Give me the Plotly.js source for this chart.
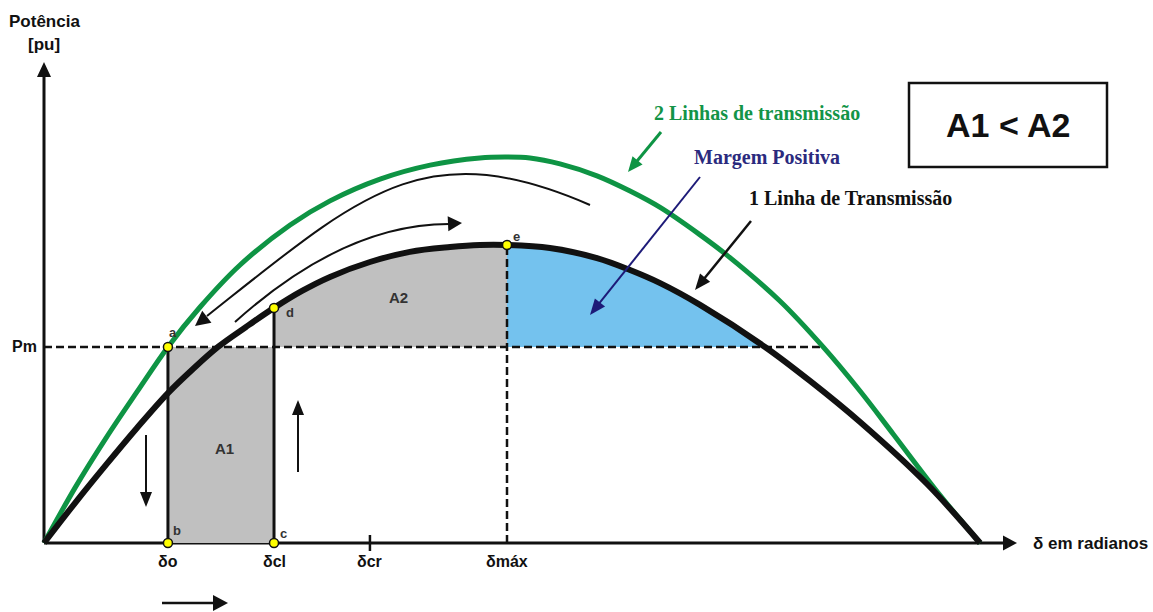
<!DOCTYPE html>
<html>
<head>
<meta charset="utf-8">
<script src="https://cdn.plot.ly/plotly-3.0.1.min.js"></script>
<style>html,body{margin:0;padding:0;background:#fff;}#chart{width:1153px;height:612px;}</style>
</head>
<body>
<div id="chart"></div>
<script>
// ---- Data (δ in radians, P in pu) ----
const deltaBlack = [0, 0.104, 0.208, 0.312, 0.416, 0.500, 0.584, 0.678, 0.772, 0.866, 0.960, 1.094, 1.228, 1.363, 1.463, 1.554, 1.698, 1.856, 1.967, 2.068, 2.202, 2.420, 2.571, 2.739, 2.964, 3.142];
const pBlack     = [0, 0.134, 0.262, 0.386, 0.503, 0.584, 0.658, 0.725, 0.789, 0.846, 0.893, 0.943, 0.977, 0.993, 1.000, 1.000, 0.990, 0.956, 0.916, 0.872, 0.799, 0.658, 0.544, 0.406, 0.198, 0];
const deltaGreen = [0, 0.104, 0.208, 0.312, 0.416, 0.524, 0.658, 0.826, 0.960, 1.128, 1.296, 1.463, 1.547, 1.631, 1.732, 1.856, 1.967, 2.068, 2.202, 2.292, 2.470, 2.615, 2.739, 2.850, 3.007, 3.142];
const pGreen     = [0, 0.185, 0.352, 0.507, 0.658, 0.792, 0.933, 1.067, 1.148, 1.221, 1.268, 1.292, 1.295, 1.292, 1.272, 1.232, 1.181, 1.126, 1.034, 0.966, 0.812, 0.658, 0.510, 0.366, 0.161, 0];
const Pm = 0.658;
const tickNames  = ['δo', 'δcl', 'δcr', 'δmáx'];
const tickDeltas = [0.416, 0.772, 1.094, 1.554];
const deltaCrossBlack = 2.420;
const deltaCrossGreen = 2.615;
const pointNames  = ['a', 'b', 'c', 'd', 'e'];
const pointDeltas = [0.416, 0.416, 0.772, 0.772, 1.554];
const pointPowers = [0.658, 0, 0, 0.789, 1.000];

const dO = tickDeltas[0], dCl = tickDeltas[1], dCr = tickDeltas[2], dMax = tickDeltas[3];

// ---- pixel helpers for decorations (axis mapping is fixed) ----
const X = px => (px - 44) * Math.PI / 936;
const Y = py => (543 - py) / 298;
const font = (s, c, fam) => ({family: fam || 'Liberation Sans, Arial, sans-serif', size: s, color: c || '#111'});
const SERIF = 'Liberation Serif, Times New Roman, serif';

function seg(x1, y1, x2, y2, color, w, layer) {
  return {type: 'line', xref: 'x', yref: 'y', x0: X(x1), y0: Y(y1), x1: X(x2), y1: Y(y2),
          line: {color: color, width: w}, layer: layer || 'above'};
}
function head(tx, ty, fx, fy, L, W, color) {
  const dx = tx - fx, dy = ty - fy, n = Math.hypot(dx, dy), ux = dx / n, uy = dy / n;
  const bx = tx - ux * L, by = ty - uy * L, qx = -uy, qy = ux;
  const p1 = [bx + qx * W / 2, by + qy * W / 2], p2 = [bx - qx * W / 2, by - qy * W / 2];
  return {type: 'path', xref: 'x', yref: 'y',
    path: `M${X(tx)},${Y(ty)}L${X(p1[0])},${Y(p1[1])}L${X(p2[0])},${Y(p2[1])}Z`,
    fillcolor: color, line: {width: 0}, layer: 'above'};
}
function arrow(x1, y1, x2, y2, color, w, L, W) {
  const dx = x2 - x1, dy = y2 - y1, n = Math.hypot(dx, dy);
  const ex = x2 - dx / n * L * 0.8, ey = y2 - dy / n * L * 0.8;
  return [seg(x1, y1, ex, ey, color, w), head(x2, y2, x1, y1, L, W, color)];
}
function P(px, py) { return X(px) + ',' + Y(py); }

// ---- traces ----
const inRange = (a, b) => deltaBlack.map((d, i) => i).filter(i => deltaBlack[i] >= a - 1e-9 && deltaBlack[i] <= b + 1e-9);
const idxA2 = inRange(dCl, dMax);
const idxBlue = inRange(dMax, deltaCrossBlack);

const traces = [
  {x: [dCl, dMax], y: [Pm, Pm], mode: 'lines', line: {width: 0}, hoverinfo: 'skip'},
  {x: idxA2.map(i => deltaBlack[i]), y: idxA2.map(i => pBlack[i]), mode: 'lines',
   line: {width: 0, shape: 'spline'}, fill: 'tonexty', fillcolor: '#c0c0c0', hoverinfo: 'skip'},
  {x: [dMax, deltaCrossBlack], y: [Pm, Pm], mode: 'lines', line: {width: 0}, hoverinfo: 'skip'},
  {x: idxBlue.map(i => deltaBlack[i]), y: idxBlue.map(i => pBlack[i]), mode: 'lines',
   line: {width: 0, shape: 'spline'}, fill: 'tonexty', fillcolor: '#74c2ee', hoverinfo: 'skip'},
  // A1 rectangle
  {x: [dO, dCl, dCl, dO, dO], y: [0, 0, Pm, Pm, 0], mode: 'lines', line: {width: 0},
   fill: 'toself', fillcolor: '#c0c0c0', hoverinfo: 'skip'},
  // dashed Pm line
  {x: [0, deltaCrossGreen], y: [Pm, Pm], mode: 'lines', line: {color: '#111', width: 2.5, dash: '8px,4px'}, hoverinfo: 'skip'},
  // dashed δmax vertical
  {x: [dMax, dMax], y: [0, pointPowers[4]], mode: 'lines', line: {color: '#111', width: 2.5, dash: '8px,4px'}, hoverinfo: 'skip'},
  // verticals at δo and δcl
  {x: [dO, dO], y: [0, Pm], mode: 'lines', line: {color: '#111', width: 3}, hoverinfo: 'skip'},
  {x: [dCl, dCl], y: [0, pointPowers[3]], mode: 'lines', line: {color: '#111', width: 3}, hoverinfo: 'skip'},
  // curves
  {x: deltaGreen, y: pGreen, mode: 'lines', line: {color: '#0e9444', width: 5, shape: 'spline'}, name: '2 Linhas'},
  {x: deltaBlack, y: pBlack, mode: 'lines', line: {color: '#111', width: 6, shape: 'spline'}, name: '1 Linha'},
  // points
  {x: pointDeltas, y: pointPowers, mode: 'markers', marker: {color: '#ffff00', size: 9, line: {color: '#111', width: 1.5}}, hoverinfo: 'skip'}
];

// ---- shapes ----
let shapes = [];
// axes
shapes.push(seg(44, 543, 1006, 543, '#111', 3, 'below'));
shapes.push(head(1017, 543, 44, 543, 14, 15, '#111'));
shapes.push(seg(44, 543, 44, 74, '#111', 3, 'below'));
shapes.push(head(44, 62, 44, 543, 15, 14, '#111'));
// δcr tick
shapes.push({type: 'line', xref: 'x', yref: 'y', x0: dCr, x1: dCr, y0: Y(535), y1: Y(551), line: {color: '#111', width: 2.5}});
// straight arrows
shapes = shapes.concat(arrow(146, 435, 146, 507, '#111', 2, 15, 12));
shapes = shapes.concat(arrow(298, 472, 298, 400, '#111', 2, 15, 12));
shapes = shapes.concat(arrow(162, 603, 228, 603, '#111', 2.5, 15, 16));
shapes = shapes.concat(arrow(661, 132, 628, 172, '#0e9444', 3, 15, 13));
shapes = shapes.concat(arrow(700, 177, 590, 315, '#1d1a78', 2, 16, 13));
shapes = shapes.concat(arrow(751, 221, 695, 290, '#111', 2.5, 16, 13));
// curved arrows
shapes.push({type: 'path', xref: 'x', yref: 'y', path: `M${P(235, 322)}Q${P(344, 224)} ${P(449, 224)}`,
  line: {color: '#111', width: 2}});
shapes.push(head(462, 223, 440, 224, 14, 15, '#111'));
shapes.push({type: 'path', xref: 'x', yref: 'y', path: `M${P(590, 205)}C${P(424, 133)} ${P(362, 193)} ${P(207, 316)}`,
  line: {color: '#111', width: 2}});
shapes.push(head(195, 326, 222, 305, 15, 15, '#111'));
// box
shapes.push({type: 'rect', xref: 'x', yref: 'y', x0: X(909), x1: X(1107), y0: Y(167), y1: Y(83),
  line: {color: '#111', width: 2.5}, fillcolor: 'rgba(0,0,0,0)'});

// ---- annotations ----
const ann = [];
tickNames.forEach((t, i) => ann.push({x: tickDeltas[i], y: Y(561), text: '<b>' + t + '</b>', showarrow: false,
  font: font(16), xanchor: 'center', yanchor: 'middle'}));
const lblShift = [[5, 14], [9, 13], [9, 10], [16, -5], [9, 9]];
pointNames.forEach((t, i) => ann.push({x: pointDeltas[i], y: pointPowers[i], text: '<b>' + t + '</b>', showarrow: false,
  font: font(13, '#333'), xshift: lblShift[i][0], yshift: lblShift[i][1], xanchor: 'center', yanchor: 'middle'}));
ann.push({x: (dO + dCl) / 2, y: Pm / 2, text: '<b>A1</b>', showarrow: false, font: font(15, '#333'), xshift: 4, yshift: -4});
ann.push({x: X(398), y: Y(297), text: '<b>A2</b>', showarrow: false, font: font(15, '#333')});
ann.push({x: 0, y: Pm, text: '<b>Pm</b>', showarrow: false, font: font(16), xshift: -20});
ann.push({x: 0, y: Y(21), text: '<b>Potência</b>', showarrow: false, font: font(17)});
ann.push({x: 0, y: Y(44), text: '<b>[pu]</b>', showarrow: false, font: font(17)});
ann.push({x: X(1031), y: 0, text: '<b>δ em radianos</b>', showarrow: false, font: font(17), xanchor: 'left'});
ann.push({x: X(757), y: Y(113), text: '<b>2 Linhas de transmissão</b>', showarrow: false, font: font(20, '#139447', SERIF)});
ann.push({x: X(767), y: Y(157), text: '<b>Margem Positiva</b>', showarrow: false, font: font(20, '#2b2a7e', SERIF)});
ann.push({x: X(850), y: Y(198), text: '<b>1 Linha de Transmissão</b>', showarrow: false, font: font(20, '#111', SERIF)});
ann.push({x: X(1008), y: Y(125), text: '<b>A1 &lt; A2</b>', showarrow: false, font: font(34, '#111')});

const layout = {
  width: 1153, height: 612, margin: {l: 0, r: 0, t: 0, b: 0, pad: 0},
  paper_bgcolor: '#fff', plot_bgcolor: '#fff', showlegend: false,
  xaxis: {range: [X(0), X(1153)], visible: false, fixedrange: true},
  yaxis: {range: [Y(612), Y(0)], visible: false, fixedrange: true},
  shapes: shapes, annotations: ann
};
Plotly.newPlot('chart', traces, layout, {staticPlot: true, displayModeBar: false});
</script>
</body>
</html>
